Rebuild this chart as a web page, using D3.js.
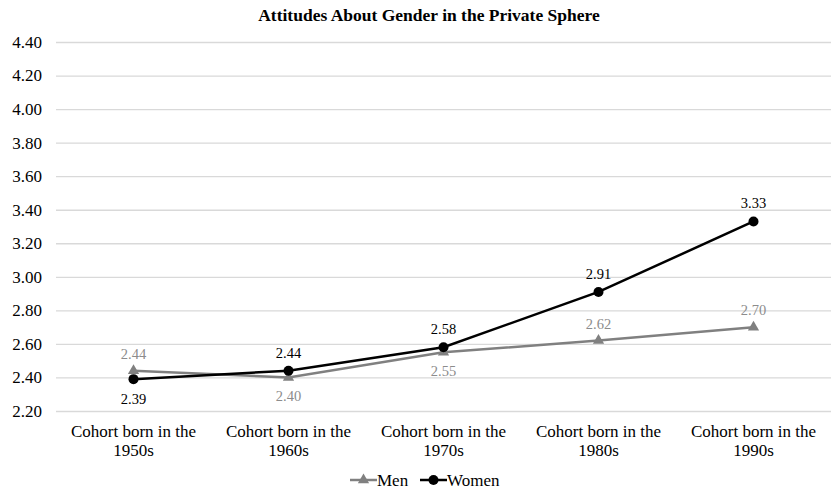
<!DOCTYPE html>
<html>
<head>
<meta charset="utf-8">
<script src="https://cdn.jsdelivr.net/npm/d3@7"></script>
<style>
  body { margin: 0; background: #fff; }
</style>
</head>
<body>
<svg id="svg" width="838" height="499"></svg>
<script>
var width = 838;
var height = 499;

// data
var cohorts = ['1950s', '1960s', '1970s', '1980s', '1990s'];
var men = [2.44, 2.40, 2.55, 2.62, 2.70];
var women = [2.39, 2.44, 2.58, 2.91, 3.33];
var yTicks = [2.20, 2.40, 2.60, 2.80, 3.00, 3.20, 3.40, 3.60, 3.80, 4.00, 4.20, 4.40];

var serif = "'Liberation Serif', 'Times New Roman', 'DejaVu Serif', serif";

var marginLeft = 56;
var marginRight = 7;
var marginTop = 42;
var plotBottom = 411;

var svg = d3.select('svg');

var x = d3.scaleBand()
    .domain(cohorts)
    .range([marginLeft, width - marginRight]);

var y = d3.scaleLinear()
    .domain([2.2, 4.4])
    .range([plotBottom, marginTop]);

// title
svg.append('text')
    .text('Attitudes About Gender in the Private Sphere')
    .attr('x', 429)
    .attr('y', 21)
    .attr('text-anchor', 'middle')
    .attr('font-weight', 'bold')
    .attr('font-size', 17.5)
    .style('font-family', serif)
    .attr('fill', '#000');

// gridlines + y labels
var yAxis = d3.axisLeft(y)
    .tickValues(yTicks)
    .tickSize(-(width - marginRight - marginLeft))
    .tickPadding(14)
    .tickFormat(d3.format('.2f'));

var gy = svg.append('g')
    .attr('transform', 'translate(' + marginLeft + ',0)')
    .call(yAxis);
gy.select('.domain').remove();
gy.selectAll('.tick line').attr('stroke', '#d9d9d9').attr('stroke-width', 1.3);
gy.selectAll('.tick text')
    .attr('font-size', 17)
    .attr('fill', '#000')
    .style('font-family', serif);

// x labels (two lines)
var gx = svg.append('g');
cohorts.forEach(function(c){
    var cx = x(c) + x.bandwidth() / 2;
    var t = gx.append('text')
        .attr('x', cx)
        .attr('y', 437)
        .attr('text-anchor', 'middle')
        .attr('font-size', 17)
        .style('font-family', serif)
        .attr('fill', '#000');
    t.append('tspan').attr('x', cx).text('Cohort born in the');
    t.append('tspan').attr('x', cx).attr('dy', 19).text(c);
});

var line = d3.line()
    .x(function(d, i){ return x(cohorts[i]) + x.bandwidth() / 2; })
    .y(function(d){ return y(d); });

var menColor = '#808080';
var menLabel = '#8c8c8c';

// men line
svg.append('path')
    .datum(men)
    .attr('d', line)
    .attr('fill', 'none')
    .attr('stroke', menColor)
    .attr('stroke-width', 2.5);

var tri = d3.symbol().type(d3.symbolTriangle).size(55);

svg.selectAll('.menPt')
    .data(men)
    .enter()
    .append('path')
    .attr('class', 'menPt')
    .attr('d', tri)
    .attr('transform', function(d, i){
        return 'translate(' + (x(cohorts[i]) + x.bandwidth() / 2) + ',' + y(d) + ')';
    })
    .attr('fill', menColor);

// women line
svg.append('path')
    .datum(women)
    .attr('d', line)
    .attr('fill', 'none')
    .attr('stroke', '#000')
    .attr('stroke-width', 2.5);

svg.selectAll('.womenPt')
    .data(women)
    .enter()
    .append('circle')
    .attr('class', 'womenPt')
    .attr('cx', function(d, i){ return x(cohorts[i]) + x.bandwidth() / 2; })
    .attr('cy', function(d){ return y(d); })
    .attr('r', 5)
    .attr('fill', '#000');

// data labels: women above except first, men below at 1960s/1970s
var menBelow = [false, true, true, false, false];
var womenBelow = [true, false, false, false, false];

svg.selectAll('.menLbl')
    .data(men)
    .enter()
    .append('text')
    .attr('x', function(d, i){ return x(cohorts[i]) + x.bandwidth() / 2; })
    .attr('y', function(d, i){ return menBelow[i] ? y(d) + 24 : y(d) - 12; })
    .attr('text-anchor', 'middle')
    .attr('font-size', 14.5)
    .style('font-family', serif)
    .attr('fill', menLabel)
    .text(function(d){ return d3.format('.2f')(d); });

svg.selectAll('.womenLbl')
    .data(women)
    .enter()
    .append('text')
    .attr('x', function(d, i){ return x(cohorts[i]) + x.bandwidth() / 2; })
    .attr('y', function(d, i){ return womenBelow[i] ? y(d) + 25 : y(d) - 13; })
    .attr('text-anchor', 'middle')
    .attr('font-size', 14.5)
    .style('font-family', serif)
    .attr('fill', '#000')
    .text(function(d){ return d3.format('.2f')(d); });

// legend
var lg = svg.append('g').attr('transform', 'translate(0,480)');
lg.append('line').attr('x1', 350).attr('x2', 377).attr('y1', 0).attr('y2', 0)
    .attr('stroke', menColor).attr('stroke-width', 2.5);
lg.append('path').attr('d', tri).attr('transform', 'translate(363.5,0)').attr('fill', menColor);
lg.append('text').text('Men').attr('x', 377).attr('y', 6).attr('font-size', 17)
    .style('font-family', serif).attr('fill', '#000');

lg.append('line').attr('x1', 420).attr('x2', 447).attr('y1', 0).attr('y2', 0)
    .attr('stroke', '#000').attr('stroke-width', 2.5);
lg.append('circle').attr('cx', 433.5).attr('cy', 0).attr('r', 5).attr('fill', '#000');
lg.append('text').text('Women').attr('x', 447).attr('y', 6).attr('font-size', 17)
    .style('font-family', serif).attr('fill', '#000');
</script>
</body>
</html>
